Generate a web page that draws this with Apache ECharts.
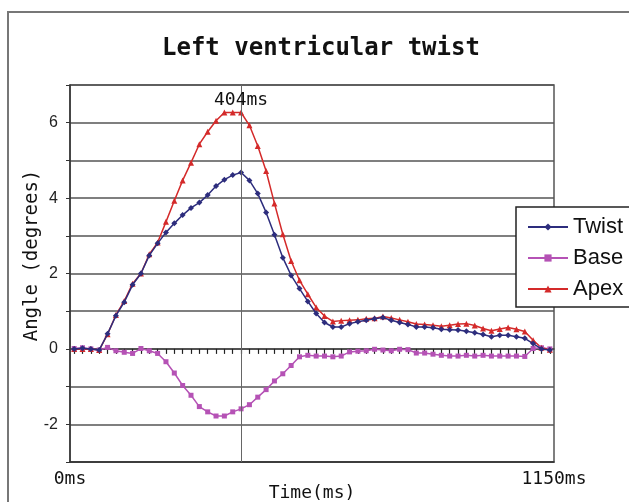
<!DOCTYPE html>
<html>
<head>
<meta charset="utf-8">
<script src="https://cdn.jsdelivr.net/npm/echarts@6/dist/echarts.min.js"></script>
<style>
  html, body { margin: 0; padding: 0; background: #fff; }
  #chart { width: 629px; height: 502px; }
</style>
</head>
<body>
<div id="chart"></div>
<script>
// frame times (ms) of each sample
const frameMs = [10, 30, 49, 69, 89, 108, 128, 148, 168, 187,
  207, 227, 246, 266, 286, 305, 325, 345, 365, 384,
  404, 424, 443, 463, 483, 502, 522, 542, 562, 581,
  601, 621, 640, 660, 680, 699, 719, 739, 759, 778,
  798, 818, 837, 857, 877, 896, 916, 936, 956, 975,
  995, 1015, 1034, 1054, 1074, 1093, 1113, 1133];

// angles in degrees
const twist = [0, 0.02, 0, -0.03, 0.4, 0.88, 1.24, 1.7, 2.0, 2.48,
  2.8, 3.09, 3.33, 3.55, 3.74, 3.88, 4.08, 4.32, 4.49, 4.61,
  4.68, 4.47, 4.12, 3.62, 3.03, 2.42, 1.95, 1.6, 1.26, 0.94,
  0.7, 0.58, 0.58, 0.67, 0.72, 0.76, 0.8, 0.83, 0.76, 0.7,
  0.65, 0.58, 0.58, 0.56, 0.52, 0.51, 0.5, 0.47, 0.43, 0.38,
  0.32, 0.36, 0.36, 0.32, 0.28, 0.14, 0, -0.03];

const base = [0.01, 0.03, 0, -0.03, 0.04, -0.05, -0.09, -0.12, 0.01, -0.05,
  -0.12, -0.34, -0.64, -0.97, -1.23, -1.53, -1.67, -1.78, -1.78, -1.67,
  -1.59, -1.48, -1.28, -1.08, -0.85, -0.66, -0.44, -0.21, -0.17, -0.19,
  -0.19, -0.21, -0.19, -0.08, -0.06, -0.05, -0.01, -0.03, -0.05, -0.01,
  -0.02, -0.11, -0.11, -0.14, -0.17, -0.19, -0.19, -0.17, -0.19, -0.17,
  -0.19, -0.19, -0.19, -0.19, -0.2, 0.01, 0.03, 0];

const apex = [0, 0, 0, -0.03, 0.39, 0.9, 1.27, 1.73, 2.0, 2.51,
  2.82, 3.37, 3.93, 4.47, 4.94, 5.43, 5.76, 6.05, 6.27, 6.27,
  6.27, 5.93, 5.38, 4.72, 3.86, 3.04, 2.33, 1.82, 1.45, 1.1,
  0.87, 0.73, 0.75, 0.76, 0.77, 0.8, 0.81, 0.86, 0.82, 0.77,
  0.72, 0.66, 0.65, 0.63, 0.6, 0.63, 0.66, 0.67, 0.62, 0.54,
  0.48, 0.53, 0.57, 0.52, 0.46, 0.23, 0.03, -0.02];

const yTicks = [-2, 0, 2, 4, 6];
const peakMs = '404';

const mono = '"DejaVu Sans Mono", monospace';
const sans = '"Liberation Sans", Arial, sans-serif';

const chart = echarts.init(document.getElementById('chart'));

function lineSeries(name, data, symbol, size, color, z) {
  return {
    name: name,
    type: 'line',
    xAxisIndex: 0,
    data: data,
    symbol: symbol,
    symbolSize: size,
    showSymbol: true,
    showAllSymbol: true,
    lineStyle: { color: color, width: 1.5 },
    itemStyle: { color: color },
    z: z
  };
}

const twistSeries = lineSeries('Twist', twist, 'diamond', 6, '#2d2d7d', 3);
twistSeries.markLine = {
  silent: true,
  symbol: 'none',
  lineStyle: { color: '#666', width: 1, type: 'solid' },
  label: {
    formatter: peakMs + 'ms',
    position: 'end',
    distance: -24,
    fontFamily: mono,
    fontSize: 18,
    color: '#111'
  },
  data: [{ xAxis: peakMs }]
};

const option = {
  backgroundColor: '#fff',
  animation: false,
  title: {
    text: 'Left ventricular twist',
    left: 162,
    top: 37,
    padding: 0,
    textStyle: { fontFamily: mono, fontSize: 24, fontWeight: 'bold', color: '#111' }
  },
  graphic: [{
    type: 'rect',
    shape: { x: 8, y: 12, width: 640, height: 520 },
    style: { fill: 'none', stroke: '#777', lineWidth: 2 },
    silent: true,
    z: -1
  }],
  legend: {
    left: 516,
    top: 207,
    orient: 'vertical',
    backgroundColor: '#fff',
    borderColor: '#222',
    borderWidth: 1.5,
    padding: [8, 30, 6, 11],
    itemGap: 7,
    itemWidth: 40,
    itemHeight: 9,
    textStyle: { fontFamily: sans, fontSize: 22, color: '#111', lineHeight: 24 },
    data: ['Twist', 'Base', 'Apex']
  },
  grid: {
    left: 70,
    right: 75,
    top: 85,
    bottom: 40,
    outerBoundsMode: 'none',
    containLabel: false,
    show: true,
    borderColor: '#555',
    borderWidth: 1.5,
    backgroundColor: '#fff'
  },
  xAxis: [
    {
      type: 'category',
      data: frameMs.map(String),
      boundaryGap: true,
      position: 'bottom',
      axisLine: { onZero: true, lineStyle: { color: '#444', width: 1.5 } },
      axisTick: { show: true, interval: 0, alignWithLabel: true, length: 5, lineStyle: { color: '#222', width: 1.2 } },
      axisLabel: { show: false, interval: 0 },
      splitLine: { show: false }
    },
    {
      type: 'value',
      min: 0,
      max: 1150,
      interval: 1150,
      position: 'bottom',
      axisLine: { onZero: false, show: true, lineStyle: { color: '#333', width: 1.5 } },
      axisTick: { show: false },
      splitLine: { show: false },
      axisLabel: {
        fontFamily: mono,
        fontSize: 18,
        color: '#111',
        margin: 8,
        formatter: v => v + 'ms'
      },
      name: 'Time(ms)',
      nameLocation: 'middle',
      nameGap: 22,
      nameMoveOverlap: false,
      nameTextStyle: { fontFamily: mono, fontSize: 18, color: '#111' }
    }
  ],
  yAxis: {
    type: 'value',
    min: -3,
    max: 7,
    interval: 1,
    axisLine: { show: true, lineStyle: { color: '#333', width: 1.5 } },
    axisTick: { show: true, length: 4, lineStyle: { color: '#333' } },
    axisLabel: {
      fontFamily: sans,
      fontSize: 16,
      color: '#222',
      margin: 12,
      formatter: v => (yTicks.indexOf(v) >= 0 ? String(v) : '')
    },
    splitLine: { show: true, lineStyle: { color: '#555', width: 1.5 } },
    name: 'Angle (degrees)',
    nameLocation: 'middle',
    nameGap: 28,
    nameMoveOverlap: false,
    nameTextStyle: { fontFamily: mono, fontSize: 19, color: '#111', padding: [0, 0, 0, 36] }
  },
  series: [
    twistSeries,
    lineSeries('Base', base, 'rect', 5, '#b552b5', 2),
    lineSeries('Apex', apex, 'triangle', 6, '#d42a2a', 2)
  ]
};

chart.setOption(option);
</script>
</body>
</html>
